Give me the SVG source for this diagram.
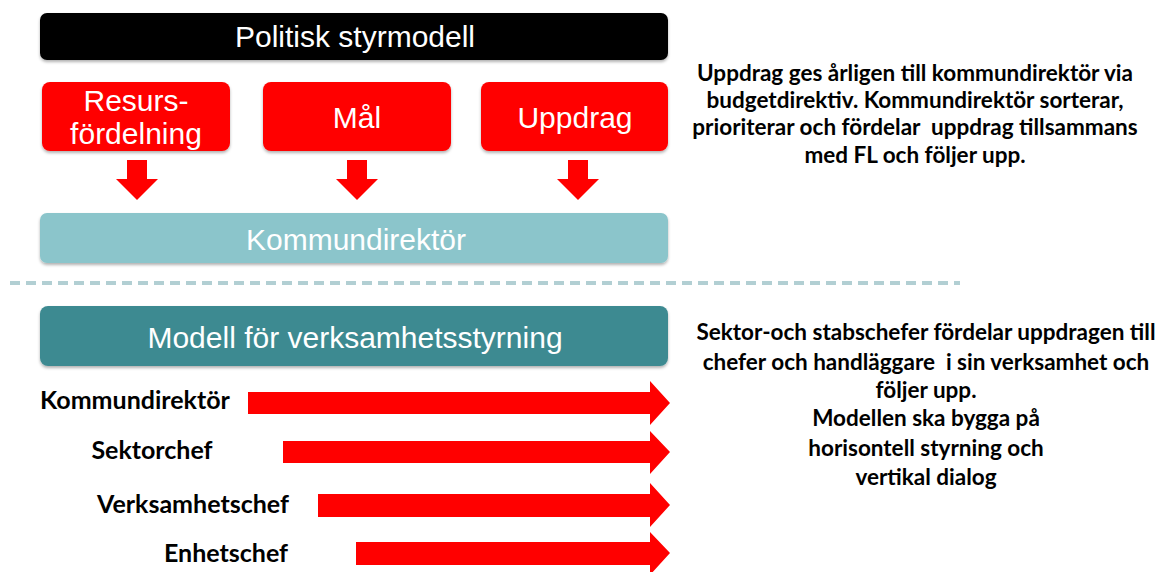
<svg xmlns="http://www.w3.org/2000/svg" width="1158" height="572" viewBox="0 0 1158 572">
<defs>
<filter id="sh" x="-5%" y="-20%" width="110%" height="150%">
<feDropShadow dx="0" dy="2" stdDeviation="1.5" flood-color="#000" flood-opacity="0.3"/>
</filter>
<style>
.box{filter:url(#sh)}
.wt{font-family:"Liberation Sans",Arial,sans-serif;fill:#fff;text-anchor:middle;font-size:30px}
.lbl{font-family:Lato,"Open Sans",sans-serif;font-weight:700;fill:#000;text-anchor:middle;font-size:22.5px;white-space:pre}
.lv{font-size:25px}
.red{fill:#ff0000}
</style>
</defs>
<rect width="1158" height="572" fill="#fff"/>
<g id="politisk">
<rect class="box" x="40" y="13" width="628" height="47" rx="7" fill="#000"/>
<text class="wt" x="355" y="47">Politisk styrmodell</text>
</g>
<g id="resurs">
<rect class="box" x="42" y="82" width="188" height="69" rx="8" fill="#ff0000"/>
<text class="wt" x="136" y="111">Resurs-</text>
<text class="wt" x="136" y="144">fördelning</text>
</g>
<g id="mal">
<rect class="box" x="263" y="82" width="188" height="69" rx="8" fill="#ff0000"/>
<text class="wt" x="357" y="128">Mål</text>
</g>
<g id="uppdrag">
<rect class="box" x="481" y="82" width="187" height="69" rx="8" fill="#ff0000"/>
<text class="wt" x="575" y="128">Uppdrag</text>
</g>
<g id="kommundirektor-top">
<rect class="box" x="40" y="213" width="628" height="50" rx="7" fill="#8BC5CB"/>
<text class="wt" x="356" y="250">Kommundirektör</text>
</g>
<g id="modell">
<rect class="box" x="40" y="306" width="628" height="60" rx="8" fill="#3E8A91"/>
<text class="wt" x="355" y="348">Modell för verksamhetsstyrning</text>
</g>
<g id="connectors">
<polygon class="red" points="127,160 147,160 147,179 158,179 137,200 116,179 127,179"/>
<polygon class="red" points="347,160 367,160 367,179 378,179 357,200 336,179 347,179"/>
<polygon class="red" points="568,160 588,160 588,179 599,179 578,200 557,179 568,179"/>
<line x1="10" y1="283" x2="960" y2="283" stroke="#B2CFD3" stroke-width="4" stroke-dasharray="10,6"/>
<polygon class="red" points="248,392 650,392 650,381 670,403 650,425 650,414 248,414"/>
<polygon class="red" points="283,441 650,441 650,431 670,452 650,474 650,463 283,463"/>
<polygon class="red" points="318,494 650,494 650,483 670,505 650,527 650,517 318,517"/>
<polygon class="red" points="356,542 650,542 650,532 670,553 650,575 650,565 356,565"/>
</g>
<g id="levels">
<text class="lbl lv" x="135" y="409">Kommundirektör</text>
<text class="lbl lv" x="152" y="459">Sektorchef</text>
<text class="lbl lv" x="193" y="513">Verksamhetschef</text>
<text class="lbl lv" x="226" y="562">Enhetschef</text>
</g>
<g id="text-top">
<text class="lbl" x="915" y="81">Uppdrag ges årligen till kommundirektör via</text>
<text class="lbl" x="915" y="108">budgetdirektiv. Kommundirektör sorterar,</text>
<text class="lbl" x="915" y="135">prioriterar och fördelar  uppdrag tillsammans</text>
<text class="lbl" x="915" y="163">med FL och följer upp.</text>
</g>
<g id="text-bottom">
<text class="lbl" x="926" y="340">Sektor-och stabschefer fördelar uppdragen till</text>
<text class="lbl" x="926" y="370">chefer och handläggare  i sin verksamhet och</text>
<text class="lbl" x="926" y="398">följer upp.</text>
<text class="lbl" x="926" y="426">Modellen ska bygga på</text>
<text class="lbl" x="926" y="456">horisontell styrning och</text>
<text class="lbl" x="926" y="485">vertikal dialog</text>
</g>
</svg>
